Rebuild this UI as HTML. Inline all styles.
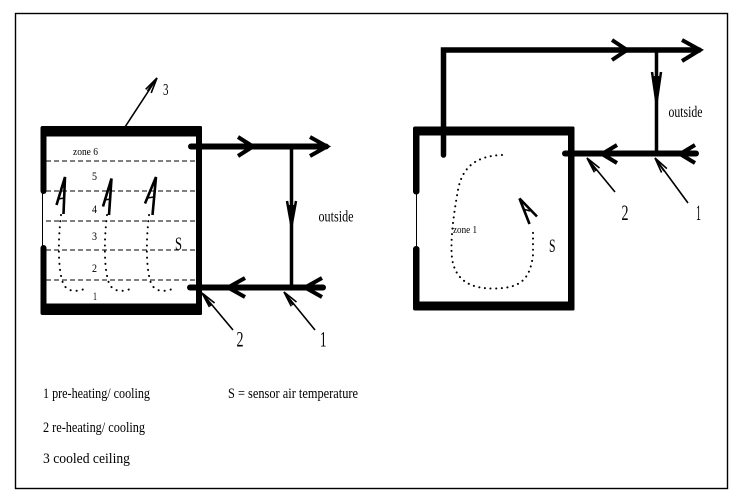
<!DOCTYPE html>
<html><head><meta charset="utf-8"><style>
html,body{margin:0;padding:0;background:#fff;}
svg{display:block;}
text{font-family:"Liberation Serif",serif;fill:#000;}
</style></head><body>
<svg width="755" height="504" viewBox="0 0 755 504" xmlns="http://www.w3.org/2000/svg">
<rect x="15.5" y="13.5" width="712" height="475" fill="none" stroke="#000" stroke-width="1.4"/>

<!-- LEFT BOX -->
<g fill="#000">
<rect x="40.5" y="126" width="161.5" height="10.5" rx="2"/>
<rect x="40.5" y="303.5" width="161.5" height="11.5" rx="2"/>
<rect x="196" y="126" width="6" height="189" rx="1.5"/>
<rect x="40.5" y="126" width="6" height="68" rx="3"/>
<rect x="40.5" y="245" width="6" height="70" rx="3"/>
</g>
<line x1="42.5" y1="192" x2="42.5" y2="247" stroke="#000" stroke-width="1"/>
<g stroke="#000" stroke-width="1" stroke-dasharray="5 3">
<line x1="46" y1="161" x2="196" y2="161"/>
<line x1="46" y1="191" x2="196" y2="191"/>
<line x1="46" y1="221" x2="196" y2="221"/>
<line x1="46" y1="250" x2="196" y2="250"/>
<line x1="46" y1="280" x2="196" y2="280"/>
</g>
<!-- dotted loops -->
<g fill="none" stroke="#000" stroke-width="2" stroke-linecap="round" stroke-dasharray="0.1 6">
<path d="M61,215 C58,240 58,265 62,280 C65,292 75,293 87,288"/>
<path d="M107,215 C104,240 104,265 108,280 C111,292 121,293 133,288"/>
<path d="M149,215 C146,240 146,265 150,280 C153,292 163,293 175,288"/>
</g>
<!-- A arrowheads -->
<g fill="none" stroke="#000" stroke-width="2.6" stroke-linejoin="miter">
<path d="M56.5,205 L65,177 L63.5,214"/>
<path d="M103,206.5 L111.5,178.5 L109,215"/>
<path d="M145,203.5 L156,177 L152.5,215"/>
</g>
<g stroke="#000" stroke-width="1.5">
<line x1="58" y1="199" x2="64.5" y2="198"/>
<line x1="104.5" y1="200" x2="110.5" y2="199"/>
<line x1="147" y1="198" x2="154" y2="197"/>
</g>

<!-- left ducts -->
<g stroke="#000" fill="none">
<line x1="191" y1="146.5" x2="326" y2="146.5" stroke-width="6" stroke-linecap="round"/>
<line x1="291.5" y1="146" x2="291.5" y2="288" stroke-width="3.5"/>
<line x1="190" y1="287.5" x2="323" y2="287.5" stroke-width="6" stroke-linecap="round"/>
<polyline points="238,137 253,146.5 238,156" stroke-width="4"/>
<polyline points="310,137 327,146.5 310,156" stroke-width="4"/>
<polyline points="245,278 228,287.5 245,297" stroke-width="4"/>
<polyline points="322,278 305,287.5 322,297" stroke-width="4"/>
<polyline points="287,201 291.5,226 296,201" stroke-width="2.5"/>
<line x1="289.5" y1="205" x2="291.5" y2="224" stroke-width="1.5"/>
<line x1="293.5" y1="205" x2="291.5" y2="224" stroke-width="1.5"/>
</g>
<!-- left pointers -->
<g stroke="#000" stroke-width="1.6" fill="none">
<line x1="233" y1="330" x2="202" y2="293"/>
<polyline points="209.5,307 202,293 214.6,303"/>
<line x1="204" y1="296" x2="211" y2="306"/>
<line x1="315" y1="330" x2="284" y2="292"/>
<polyline points="291.3,306.2 284,292 296.5,302"/>
<line x1="286" y1="295" x2="293" y2="305"/>
<line x1="125" y1="127" x2="157" y2="78"/>
<polyline points="145.7,89.3 157,78 151.2,92.9"/>
<line x1="154.5" y1="81" x2="147.5" y2="91"/>
</g>

<!-- left text -->
<text x="73" y="155" font-size="10" textLength="25" lengthAdjust="spacingAndGlyphs">zone 6</text>
<text x="92" y="180" font-size="12" textLength="5" lengthAdjust="spacingAndGlyphs">5</text>
<text x="92" y="213" font-size="12" textLength="5" lengthAdjust="spacingAndGlyphs">4</text>
<text x="92" y="240" font-size="12" textLength="5" lengthAdjust="spacingAndGlyphs">3</text>
<text x="92" y="272" font-size="12" textLength="5" lengthAdjust="spacingAndGlyphs">2</text>
<text x="93" y="300" font-size="12" textLength="4" lengthAdjust="spacingAndGlyphs">1</text>
<text x="175" y="250" font-size="19" textLength="7" lengthAdjust="spacingAndGlyphs">S</text>
<text x="318.5" y="221.5" font-size="16" textLength="35" lengthAdjust="spacingAndGlyphs">outside</text>
<text x="163" y="95" font-size="17" textLength="5.5" lengthAdjust="spacingAndGlyphs">3</text>
<text x="236.5" y="346.5" font-size="22" textLength="7" lengthAdjust="spacingAndGlyphs">2</text>
<text x="320" y="346.5" font-size="22" textLength="6.5" lengthAdjust="spacingAndGlyphs">1</text>

<!-- RIGHT BOX -->
<g fill="#000">
<rect x="413" y="126.5" width="161.5" height="9" rx="2"/>
<rect x="413" y="301.5" width="161.5" height="9" rx="2"/>
<rect x="568" y="126.5" width="6.5" height="184" rx="1.5"/>
<rect x="413" y="126.5" width="6.5" height="68" rx="3"/>
<rect x="413" y="246" width="6.5" height="64.5" rx="3"/>
</g>
<line x1="416.5" y1="192" x2="416.5" y2="248" stroke="#000" stroke-width="1"/>
<path d="M502,155 C475,156 462,168 458,190 C454,212 450,240 452,258 C455,280 470,289 495,288.5 C520,288 530,280 533,255 L533,228" fill="none" stroke="#000" stroke-width="2" stroke-linecap="round" stroke-dasharray="0.1 5.5"/>
<g fill="none" stroke="#000" stroke-width="2.6">
<path d="M529.5,224 L519.5,198.5 L537,216.5"/>
</g>
<line x1="523" y1="209" x2="530" y2="211" stroke="#000" stroke-width="1.5"/>

<!-- right ducts -->
<g stroke="#000" fill="none">
<path d="M443.5,155 L443.5,50 L699,50" stroke-width="5.5" stroke-linejoin="miter" stroke-linecap="round"/>
<line x1="656.5" y1="50" x2="656.5" y2="153" stroke-width="3.5"/>
<line x1="565" y1="153.5" x2="696" y2="153.5" stroke-width="6" stroke-linecap="round"/>
<polyline points="612,40 627,50 612,60" stroke-width="4"/>
<polyline points="682,40 700,50 682,61" stroke-width="4"/>
<polyline points="617,145 602,154 617,163" stroke-width="4"/>
<polyline points="695,145 680,154 695,163" stroke-width="4"/>
<polyline points="652,72 656.5,103 661,72" stroke-width="2.5"/>
<line x1="654.5" y1="76" x2="656.5" y2="101" stroke-width="1.5"/>
<line x1="658.5" y1="76" x2="656.5" y2="101" stroke-width="1.5"/>
</g>
<!-- right pointers -->
<g stroke="#000" stroke-width="1.6" fill="none">
<line x1="615" y1="192" x2="587" y2="158"/>
<polyline points="594.4,172.2 587,158 599.5,168"/>
<line x1="589" y1="161" x2="596" y2="171"/>
<line x1="688" y1="203" x2="655" y2="158"/>
<polyline points="661.6,172.6 655,158 666.9,168.6"/>
<line x1="657" y1="161" x2="664" y2="171"/>
</g>
<text x="668.5" y="117" font-size="16" textLength="34" lengthAdjust="spacingAndGlyphs">outside</text>
<text x="621.5" y="220" font-size="22" textLength="7" lengthAdjust="spacingAndGlyphs">2</text>
<text x="696" y="220" font-size="22" textLength="5" lengthAdjust="spacingAndGlyphs">1</text>
<text x="453" y="233" font-size="10" textLength="24" lengthAdjust="spacingAndGlyphs">zone 1</text>
<text x="549" y="252" font-size="19" textLength="6.5" lengthAdjust="spacingAndGlyphs">S</text>

<!-- legend -->
<text x="43" y="398" font-size="15" textLength="107" lengthAdjust="spacingAndGlyphs">1 pre-heating/ cooling</text>
<text x="43" y="432" font-size="15" textLength="102" lengthAdjust="spacingAndGlyphs">2 re-heating/ cooling</text>
<text x="43" y="463" font-size="15" textLength="87" lengthAdjust="spacingAndGlyphs">3 cooled ceiling</text>
<text x="228" y="398" font-size="15" textLength="130" lengthAdjust="spacingAndGlyphs">S = sensor air temperature</text>
</svg>
</body></html>
